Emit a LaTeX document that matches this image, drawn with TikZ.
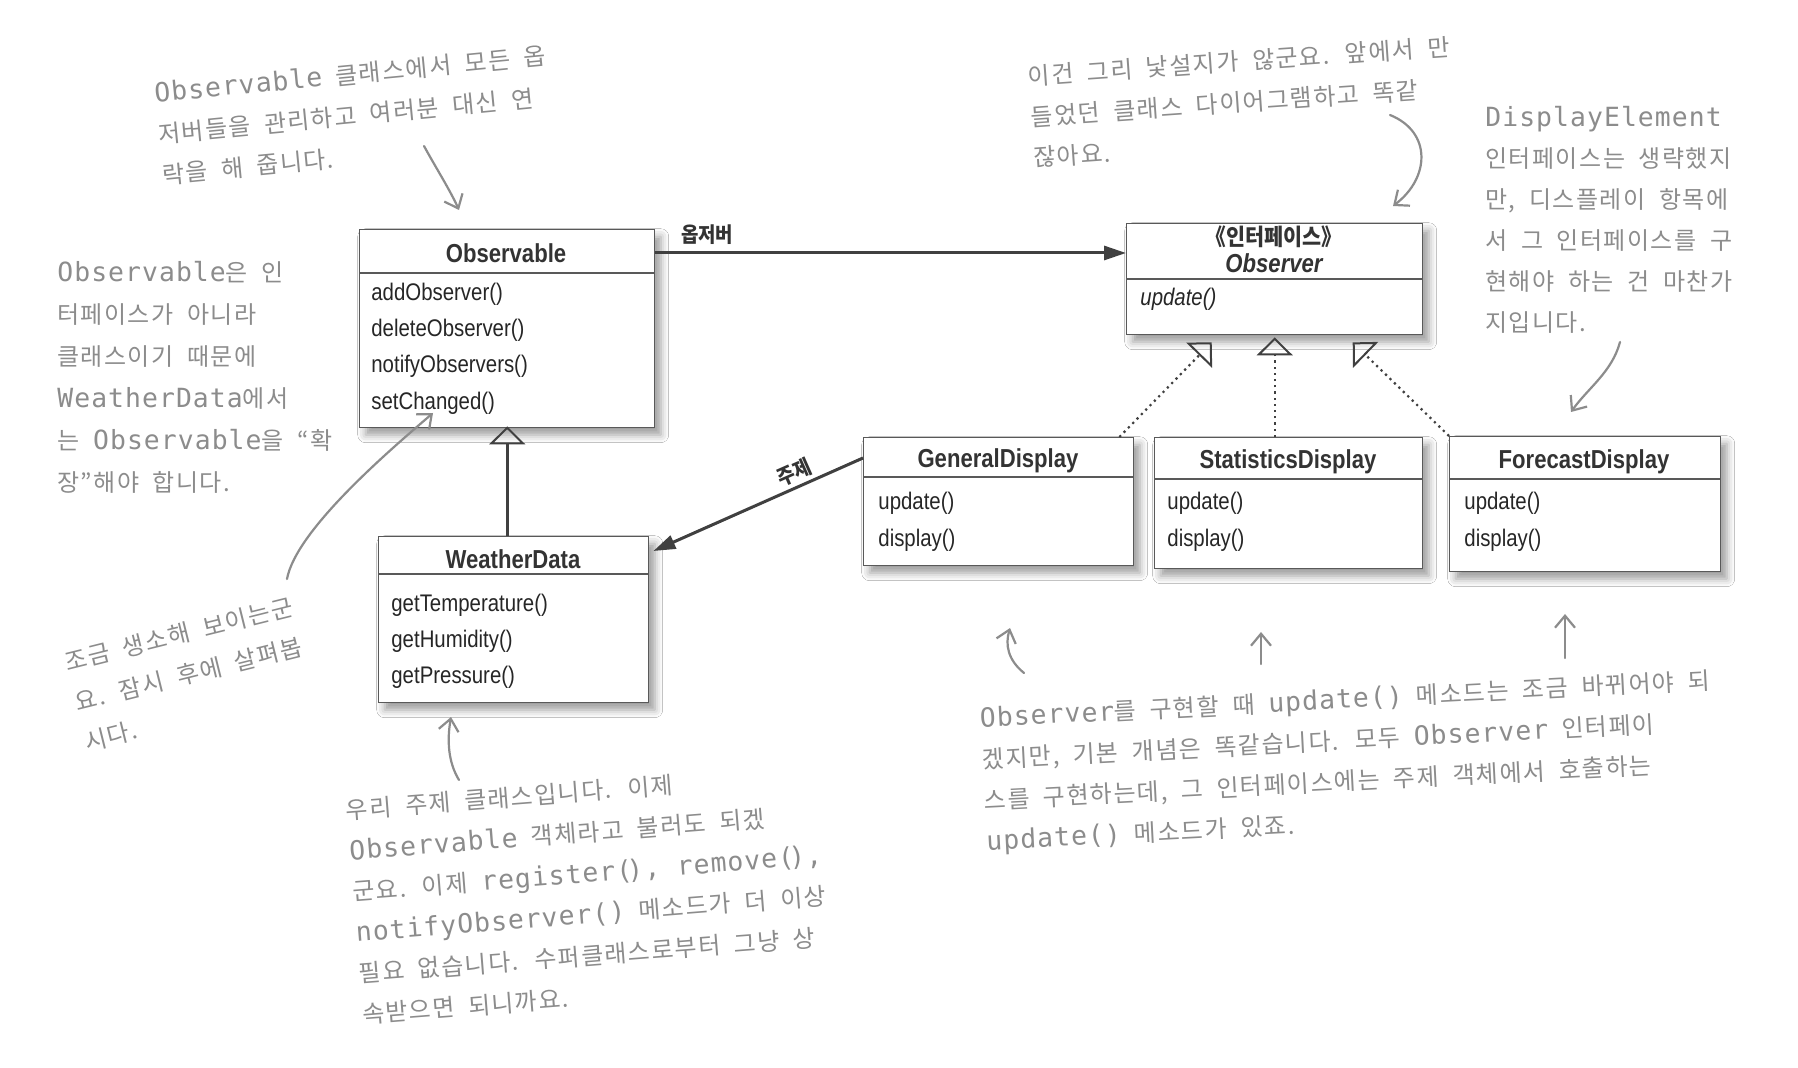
\documentclass[tikz,border=0pt]{standalone}
\usepackage{fontspec}
\setmainfont{Liberation Sans}
\usetikzlibrary{arrows.meta,shadows.blur}
% class diagram lettering
\newfontfamily\umlfont[FakeStretch=0.85]{Liberation Sans}
\newfontfamily\umlkr[FakeStretch=0.9]{Noto Sans CJK KR}
% pencil notes
\newfontfamily\handkr[LetterSpace=6,WordSpace=2]{Noto Sans CJK KR}
\newfontfamily\handlt[Scale=1.1,LetterSpace=4]{DejaVu Sans Mono}
\newcommand\lt[1]{{\handlt #1}}
\newcommand\pr{(\kern-2.5pt)}

\tikzset{
  x=0.5pt, y=-0.5pt,
  classbox/.style={draw=black!65, line width=0.7pt, fill=white, inner sep=0, anchor=north west,
    blur shadow={shadow xshift=3pt, shadow yshift=-3.5pt, shadow blur radius=4pt, shadow opacity=40}},
  divider/.style={draw=black!65, line width=0.7pt},
  ctitle/.style={font=\umlfont\fontsize{13}{15}\selectfont\bfseries, text=black!80, anchor=base, inner sep=0},
  cmeth/.style={font=\umlfont\fontsize{12}{14}\selectfont, text=black!85, anchor=base west, inner sep=0},
  rolelabel/.style={font=\umlkr\fontsize{10.5}{12}\selectfont\bfseries, text=black!80, inner sep=1.5pt},
  assoc/.style={draw=black!75, line width=1.5pt, -{Triangle[length=11pt,width=7pt]}},
  inherit/.style={draw=black!75, line width=1.4pt, -{Triangle[open,length=9pt,width=18pt,line width=1pt]}},
  realize/.style={draw=black!75, line width=1.1pt, dotted, -{Triangle[open,length=9pt,width=18pt,line width=1pt]}},
  note/.style={font=\handkr\fontsize{12}{20.5}\selectfont, text=black!45, align=left, anchor=north west, inner sep=0},
  pencil/.style={draw=black!45, line width=1.1pt, line cap=round, -{Straight Barb[length=6pt,width=10pt]}},
}

\begin{document}
\begin{tikzpicture}
\path[use as bounding box, fill=white] (0,0) rectangle (1798,1068);

% ---------- Observable ----------
\node[classbox, minimum width=147.5pt, minimum height=99pt] (obs) at (359,229) {};
\draw[divider] (obs.north west) ++(0,44) -- ++(295,0);
\node[ctitle] (obsT) at (506,263) {Observable};
\node[cmeth] (obsM1) at (371,301) {addObserver()};
\node[cmeth] (obsM2) at (371,337) {deleteObserver()};
\node[cmeth] (obsM3) at (371,373) {notifyObservers()};
\node[cmeth] (obsM4) at (371,410) {setChanged()};

% ---------- WeatherData ----------
\node[classbox, minimum width=135pt, minimum height=83pt] (wd) at (378,536) {};
\draw[divider] (wd.north west) ++(0,38) -- ++(270,0);
\node[ctitle] (wdT) at (513,569) {WeatherData};
\node[cmeth] (wdM1) at (391,612) {getTemperature()};
\node[cmeth] (wdM2) at (391,648) {getHumidity()};
\node[cmeth] (wdM3) at (391,683) {getPressure()};

% ---------- Observer interface ----------
\node[classbox, minimum width=148pt, minimum height=55.5pt] (observer) at (1126,223) {};
\draw[divider] (observer.north west) ++(0,56) -- ++(296,0);
\node[anchor=base, inner sep=0, text=black!80, font=\umlkr\fontsize{11.5}{13}\selectfont\bfseries] (obsvS) at (1274,246) {《인터페이스》};
\node[ctitle, font=\umlfont\fontsize{13}{15}\selectfont\bfseries\itshape] (obsvT) at (1274,273) {Observer};
\node[cmeth, font=\umlfont\fontsize{12}{14}\selectfont\itshape] (obsvM1) at (1140,306) {update()};

% ---------- displays ----------
\node[classbox, minimum width=135pt, minimum height=64pt] (gen) at (863,437) {};
\draw[divider] (gen.north west) ++(0,40) -- ++(270,0);
\node[ctitle] (genT) at (998,468) {GeneralDisplay};
\node[cmeth] (genM1) at (878,510) {update()};
\node[cmeth] (genM2) at (878,547) {display()};

\node[classbox, minimum width=134pt, minimum height=65.5pt] (stat) at (1154,437) {};
\draw[divider] (stat.north west) ++(0,42) -- ++(268,0);
\node[ctitle] (statT) at (1288,469) {StatisticsDisplay};
\node[cmeth] (statM1) at (1167,510) {update()};
\node[cmeth] (statM2) at (1167,547) {display()};

\node[classbox, minimum width=135.5pt, minimum height=67.5pt] (fc) at (1449,436) {};
\draw[divider] (fc.north west) ++(0,43) -- ++(271,0);
\node[ctitle] (fcT) at (1584,469) {ForecastDisplay};
\node[cmeth] (fcM1) at (1464,510) {update()};
\node[cmeth] (fcM2) at (1464,547) {display()};

% ---------- relations ----------
\draw[assoc] ([yshift=-12pt]obs.north east) --
  node[rolelabel, pos=0.11, anchor=south, yshift=2pt] (lblObs) {옵저버}
  ([yshift=-15pt]observer.north west);
\draw[assoc] ([yshift=-10.5pt]gen.north west) --
  node[rolelabel, pos=0.3, sloped, above] (lblSubj) {주제}
  ([xshift=2pt,yshift=-7.5pt]wd.north east);
\draw[inherit, shorten >=-1pt] (wd.north -| obs.south) -- (obs.south);
\draw[realize] ([xshift=-7.5pt]gen.north east) -- ([xshift=-31.5pt,yshift=-3.5pt]observer.south);
\draw[realize] (stat.north -| observer.south) -- ([yshift=-1pt]observer.south);
\draw[realize] (fc.north west) -- ([xshift=39pt,yshift=-3.5pt]observer.south);

% ---------- pencil notes ----------
\node[note, rotate=5.5] (n1) at (153,82)
  {\lt{Observable} 클래스에서 모든 옵\\저버들을 관리하고 여러분 대신 연\\락을 해 줍니다.};
\node[note, rotate=4] (n2) at (1027,65)
  {이건 그리 낯설지가 않군요. 앞에서 만\\들었던 클래스 다이어그램하고 똑같\\잖아요.};
\node[note] (n3) at (1485,106)
  {\lt{DisplayElement}\\인터페이스는 생략했지\\만, 디스플레이 항목에\\서 그 인터페이스를 구\\현해야 하는 건 마찬가\\지입니다.};
\node[note, font=\handkr\fontsize{12}{21}\selectfont] (n4) at (57,261)
  {\lt{Observable}은 인\\터페이스가 아니라\\클래스이기 때문에\\\lt{WeatherData}에서\\는 \lt{Observable}을 “확\\장”해야 합니다.};
\node[note, rotate=14] (n5) at (62,652)
  {조금 생소해 보이는군\\요. 잠시 후에 살펴봅\\시다.};
\node[note, rotate=4.5] (n6) at (345,799)
  {우리 주제 클래스입니다. 이제\\\lt{Observable} 객체라고 불러도 되겠\\군요. 이제 \lt{register\pr, remove\pr,}\\\lt{notifyObserver()} 메소드가 더 이상\\필요 없습니다. 수퍼클래스로부터 그냥 상\\속받으면 되니까요.};
\node[note, rotate=3] (n7) at (979,707)
  {\lt{Observer}를 구현할 때 \lt{update()} 메소드는 조금 바뀌어야 되\\겠지만, 기본 개념은 똑같습니다. 모두 \lt{Observer} 인터페이\\스를 구현하는데, 그 인터페이스에는 주제 객체에서 호출하는\\\lt{update()} 메소드가 있죠.};

% ---------- pencil arrows ----------
\coordinate (p1a) at (424,146);  \coordinate (p1b) at (459,210);
\coordinate (p2a) at (1390,115); \coordinate (p2b) at (1393,206);
\coordinate (p3a) at (1620,342); \coordinate (p3b) at (1571,412);
\coordinate (p4a) at (287,579);  \coordinate (p4b) at (433,413);
\coordinate (p5a) at (459,780);  \coordinate (p5b) at (451,717);
\coordinate (p6a) at (1024,673); \coordinate (p6b) at (1010,628);
\coordinate (p7a) at (1261,664); \coordinate (p7b) at (1261,632);
\coordinate (p8a) at (1565,658); \coordinate (p8b) at (1565,614);

\draw[pencil] (p1a) .. controls (436,168) and (450,190) .. (p1b);
\draw[pencil] (p2a) .. controls (1432,132) and (1430,178) .. (p2b);
\draw[pencil] (p3a) .. controls (1612,372) and (1588,388) .. (p3b);
\draw[pencil] (p4a) .. controls (296,530) and (390,450) .. (p4b);
\draw[pencil] (p5a) .. controls (448,762) and (447,740) .. (p5b);
\draw[pencil] (p6a) .. controls (1008,660) and (1005,645) .. (p6b);
\draw[pencil] (p7a) -- (p7b);
\draw[pencil] (p8a) -- (p8b);
\end{tikzpicture}
\end{document}
